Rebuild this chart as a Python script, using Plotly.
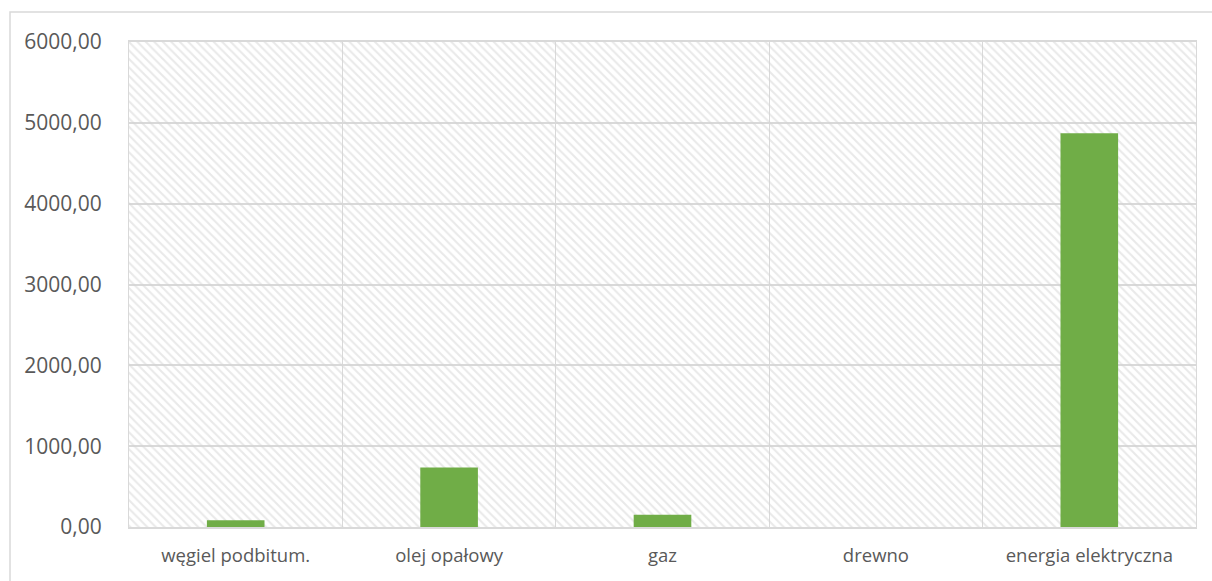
import plotly.graph_objects as go

categories = ["węgiel podbitum.", "olej opałowy", "gaz", "drewno", "energia elektryczna"]
values = [85.0, 735.0, 150.0, 0.0, 4870.0]
y_ticks = [0, 1000, 2000, 3000, 4000, 5000, 6000]
y_tick_labels = ["0,00", "1000,00", "2000,00", "3000,00", "4000,00", "5000,00", "6000,00"]
y_max = 6000

W, H = 1212, 581
L, R, T, B = 129, 16, 42, 54
pw, ph = W - L - R, H - T - B

fig = go.Figure()
# hatched plot background
fig.add_trace(go.Bar(
    x=categories, y=[y_max] * len(categories), width=1,
    marker=dict(color="rgba(0,0,0,0)", line=dict(width=0),
                pattern=dict(shape="\\", fgcolor="#d4d4d4", bgcolor="rgba(0,0,0,0)",
                             size=6, solidity=0.35)),
    hoverinfo="skip", showlegend=False))
fig.add_trace(go.Bar(
    x=categories, y=values, width=0.27,
    marker=dict(color="#70ad47", line=dict(width=0)),
    showlegend=False))

gray = "#d9d9d9"
fig.update_layout(
    width=W, height=H, barmode="overlay",
    margin=dict(l=L, r=R, t=T, b=B, pad=0, autoexpand=False),
    paper_bgcolor="white", plot_bgcolor="white",
    font=dict(family="Open Sans", size=20, color="#595959"),
    xaxis=dict(type="category", tickson="boundaries", showgrid=True, gridcolor=gray,
               gridwidth=1, ticks="", ticklabelstandoff=11, automargin=False,
               showline=True, linecolor=gray, linewidth=2,
               mirror=True, tickfont=dict(size=18.5), range=[-0.5, 4.5]),
    yaxis=dict(range=[0, y_max], tickvals=y_ticks, ticktext=y_tick_labels,
               showgrid=True, gridcolor=gray, gridwidth=2, ticks="", automargin=False,
               ticklabelstandoff=22, showline=True, linecolor=gray,
               linewidth=1, mirror=True, zeroline=False, tickfont=dict(size=21)),
    shapes=[dict(type="rect", xref="paper", yref="paper",
                 x0=(10 - L) / pw, x1=1.2, y0=-0.3, y1=1 + (T - 12) / ph,
                 line=dict(color=gray, width=1.5), fillcolor="rgba(0,0,0,0)", layer="below")],
)
fig.write_html("out.html")
